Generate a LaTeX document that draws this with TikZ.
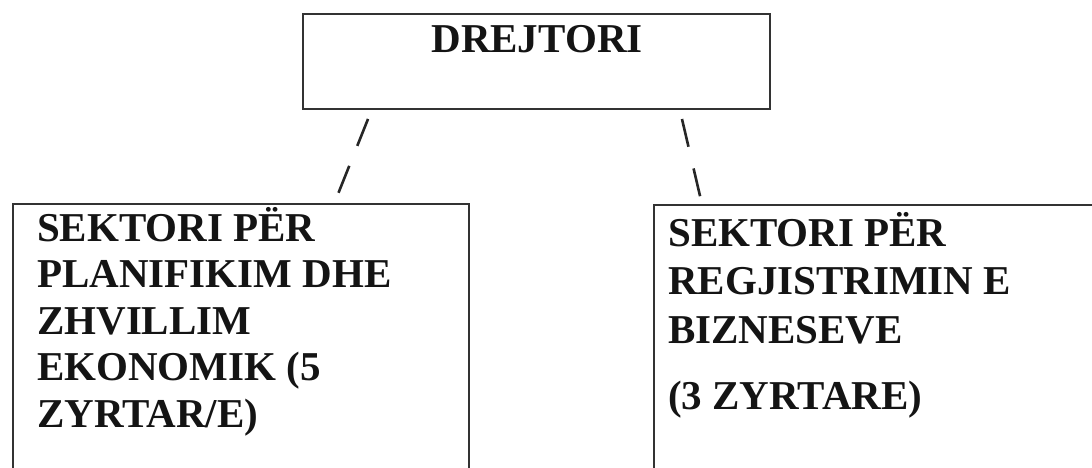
\documentclass[tikz,border=0pt]{standalone}
\usepackage{fontspec}
\setmainfont{Liberation Serif}
\begin{document}
\begin{tikzpicture}[x=1pt,y=-1pt,
  box/.style={draw=black!80, line width=1.9pt, inner sep=0pt, anchor=north west},
  boxtext/.style={font=\bfseries\fontsize{41}{46.5}\selectfont, align=left, inner sep=0pt, text=black!92},
  link/.style={draw=black!85, line width=2.6pt}]
\useasboundingbox (0,0) rectangle (1092,468);
\clip (0,0) rectangle (1092,468);
% boxes
\node[box, minimum width=467pt, minimum height=95pt] (top) at (302,13) {};
\node[box, minimum width=456pt, minimum height=320pt] (left) at (12,203) {};
\node[box, minimum width=500pt, minimum height=320pt] (right) at (653,204) {};
% texts
\node[boxtext, anchor=base] (toptext) at (537,53) {DREJTORI};
\node[boxtext, anchor=north west] (lefttext) at (37,207) {SEKTORI PËR\\PLANIFIKIM DHE\\ZHVILLIM\\EKONOMIK (5\\ZYRTAR/E)};
\node[boxtext, anchor=north west, font=\bfseries\fontsize{41}{48.5}\selectfont] (righttext) at (668,212) {SEKTORI PËR\\REGJISTRIMIN E\\BIZNESEVE\\[17.5pt](3 ZYRTARE)};
% connectors
\coordinate (l1) at (372.4,108);
\coordinate (l2) at (334.4,203);
\coordinate (r1) at (679.4,108);
\coordinate (r2) at (701.9,204);
\draw[link, dash pattern=on 29pt off 21.5pt, dash phase=38.7pt] (l1) -- (l2);
\draw[link, dash pattern=on 28.5pt off 22.3pt, dash phase=39.5pt] (r1) -- (r2);
\end{tikzpicture}
\end{document}
